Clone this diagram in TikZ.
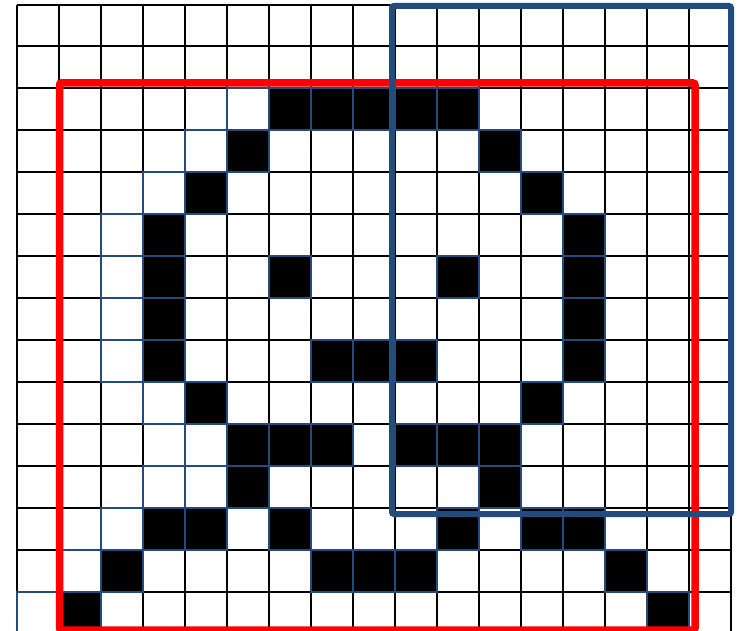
\documentclass[tikz,border=0pt]{standalone}
\definecolor{navy}{RGB}{35,75,125}
\begin{document}
\begin{tikzpicture}[x=1pt,y=-1pt,
  gridline/.style={black, line width=1.6pt},
  blackcell/.style={fill=black, draw=navy, line width=1.6pt},
  shadecell/.style={fill=white, draw=navy, line width=1.6pt},
  redbox/.style={draw=red, line width=7.5pt, rounded corners=2pt},
  bluebox/.style={draw=navy, line width=6pt, rounded corners=2pt}]
\useasboundingbox (0,0) rectangle (740,631);
\fill[white] (0,0) rectangle (740,631);
\begin{scope}
\clip (0,0) rectangle (740,631);
% grid
\foreach \c in {0,...,17} \draw[gridline] ({17+42*\c},5) -- ({17+42*\c},640);
\draw[gridline] (17,5) -- (731,5);
\foreach \r in {1,...,14} \draw[gridline] (17,{4+42*\r}) -- (731,{4+42*\r});
% shaded (navy outlined) white cells
\foreach \c/\r in {5/2,4/3,3/4,2/5,2/6,2/7,2/8,3/9,4/10,3/11,4/11,2/12,1/13,0/14}
  \draw[shadecell] ({17+42*\c},{4+42*\r}) rectangle ++(42,42);
% black cells
\foreach \c/\r in {6/2,7/2,8/2,9/2,10/2,
                   5/3,11/3,
                   4/4,12/4,
                   3/5,13/5,
                   3/6,6/6,10/6,13/6,
                   3/7,13/7,
                   3/8,7/8,8/8,9/8,13/8,
                   4/9,12/9,
                   5/10,6/10,7/10,9/10,10/10,11/10,
                   5/11,11/11,
                   3/12,4/12,6/12,10/12,12/12,13/12,
                   2/13,7/13,8/13,9/13,14/13,
                   1/14,15/14}
  \draw[blackcell] ({17+42*\c},{4+42*\r}) rectangle ++(42,42);
% frames
\draw[redbox] (59.5,83) rectangle (695,630);
\draw[bluebox] (392,6) rectangle (731,514);
\end{scope}
\end{tikzpicture}
\end{document}
